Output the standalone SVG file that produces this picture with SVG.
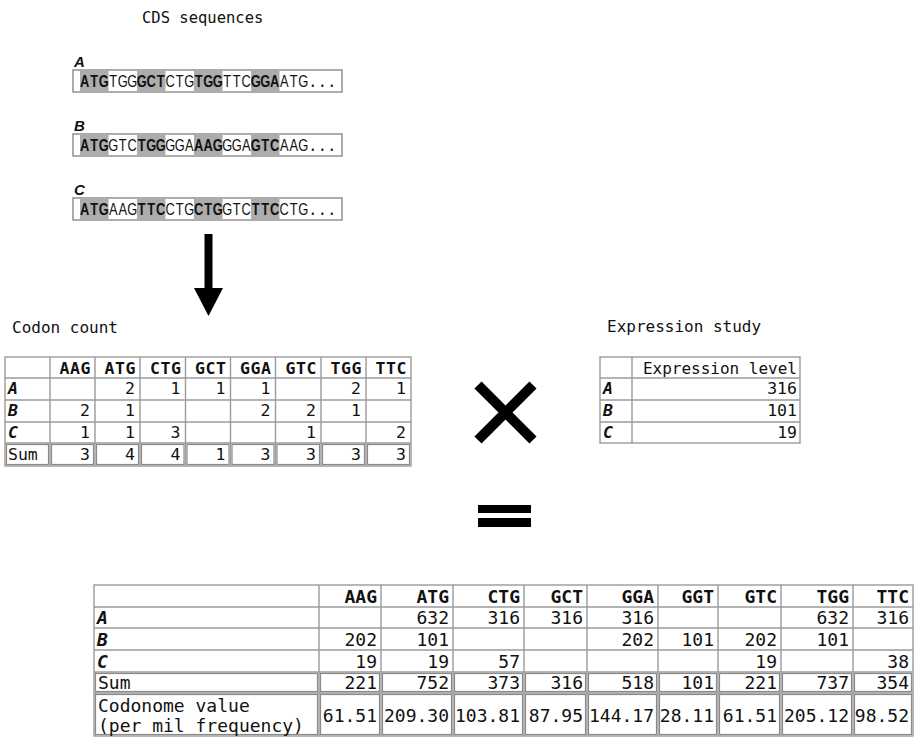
<svg xmlns="http://www.w3.org/2000/svg" width="914" height="737" viewBox="0 0 914 737">
<style>
.mono{font-family:"DejaVu Sans Mono","Liberation Mono",monospace;fill:#111}
.sans{font-family:"Liberation Sans",Arial,sans-serif;fill:#111}
.s16{font-size:16.5px}
.s18{font-size:18px}
.b{font-weight:bold}
.it{font-style:italic;font-weight:bold}
.e{text-anchor:end}
.grid{stroke:#9a9a9a;stroke-width:1.4;fill:none}
.dbl{stroke:#8a8a8a;stroke-width:1.2;fill:none}
.box{stroke:#8a8a8a;stroke-width:1.4;fill:#fff}
.sh{fill:#acacac}
.seq{font-family:"Liberation Sans",Arial,sans-serif;font-size:16.5px;fill:#111;text-anchor:middle}
.sb{font-weight:bold}
</style>
<rect width="914" height="737" fill="#fff"/>

<g id="title">
<text class="mono" x="142" y="23" font-size="15.5">CDS sequences</text>
</g>

<g id="seqA">
<text class="sans it" x="74" y="67" font-size="15">A</text>
<rect class="box" x="73" y="70" width="269" height="22"/>
<rect class="sh" x="80" y="70.7" width="28.5" height="20.6"/>
<rect class="sh" x="137" y="70.7" width="28.5" height="20.6"/>
<rect class="sh" x="194" y="70.7" width="28.5" height="20.6"/>
<rect class="sh" x="251" y="70.7" width="28.5" height="20.6"/>
<text class="seq" y="87.5" transform="scale(0.78 1)"><tspan class="sb" x="108.65 120.83 133.01">ATG</tspan><tspan x="145.19 157.37 169.55">TGG</tspan><tspan class="sb" x="181.73 193.91 206.09">GCT</tspan><tspan x="218.27 230.45 242.63">CTG</tspan><tspan class="sb" x="254.81 266.99 279.17">TGG</tspan><tspan x="291.35 303.53 315.71">TTC</tspan><tspan class="sb" x="327.89 340.07 352.25">GGA</tspan><tspan x="364.43 376.61 388.79">ATG</tspan><tspan class="sb" x="400.97 413.15 425.33">...</tspan></text>
</g>

<g id="seqB">
<text class="sans it" x="74" y="131" font-size="15">B</text>
<rect class="box" x="73" y="134" width="269" height="22"/>
<rect class="sh" x="80" y="134.7" width="28.5" height="20.6"/>
<rect class="sh" x="137" y="134.7" width="28.5" height="20.6"/>
<rect class="sh" x="194" y="134.7" width="28.5" height="20.6"/>
<rect class="sh" x="251" y="134.7" width="28.5" height="20.6"/>
<text class="seq" y="151.5" transform="scale(0.78 1)"><tspan class="sb" x="108.65 120.83 133.01">ATG</tspan><tspan x="145.19 157.37 169.55">GTC</tspan><tspan class="sb" x="181.73 193.91 206.09">TGG</tspan><tspan x="218.27 230.45 242.63">GGA</tspan><tspan class="sb" x="254.81 266.99 279.17">AAG</tspan><tspan x="291.35 303.53 315.71">GGA</tspan><tspan class="sb" x="327.89 340.07 352.25">GTC</tspan><tspan x="364.43 376.61 388.79">AAG</tspan><tspan class="sb" x="400.97 413.15 425.33">...</tspan></text>
</g>

<g id="seqC">
<text class="sans it" x="74" y="195" font-size="15">C</text>
<rect class="box" x="73" y="198" width="269" height="22"/>
<rect class="sh" x="80" y="198.7" width="28.5" height="20.6"/>
<rect class="sh" x="137" y="198.7" width="28.5" height="20.6"/>
<rect class="sh" x="194" y="198.7" width="28.5" height="20.6"/>
<rect class="sh" x="251" y="198.7" width="28.5" height="20.6"/>
<text class="seq" y="215.5" transform="scale(0.78 1)"><tspan class="sb" x="108.65 120.83 133.01">ATG</tspan><tspan x="145.19 157.37 169.55">AAG</tspan><tspan class="sb" x="181.73 193.91 206.09">TTC</tspan><tspan x="218.27 230.45 242.63">CTG</tspan><tspan class="sb" x="254.81 266.99 279.17">CTG</tspan><tspan x="291.35 303.53 315.71">GTC</tspan><tspan class="sb" x="327.89 340.07 352.25">TTC</tspan><tspan x="364.43 376.61 388.79">CTG</tspan><tspan class="sb" x="400.97 413.15 425.33">...</tspan></text>
</g>

<g id="connectors">
<rect x="204.5" y="234" width="8" height="56" fill="#000"/>
<polygon points="194,288 223,288 208.5,316" fill="#000"/>
</g>

<g id="codon-count">
<text class="mono" font-size="16" x="12" y="333">Codon count</text>
<rect class="grid" x="5" y="357" width="406" height="109"/>
<path class="grid" d="M5 378H411M5 400H411M5 422H411M5 443H411M50 357V466M95 357V466M140 357V466M185.5 357V466M230.5 357V466M275.5 357V466M321 357V466M366 357V466"/>
<g class="dbl">
<rect x="6.5" y="444.5" width="42" height="20"/>
<rect x="51.5" y="444.5" width="42" height="20"/>
<rect x="96.5" y="444.5" width="42" height="20"/>
<rect x="141.5" y="444.5" width="42.5" height="20"/>
<rect x="187" y="444.5" width="42" height="20"/>
<rect x="232" y="444.5" width="42" height="20"/>
<rect x="277" y="444.5" width="42.5" height="20"/>
<rect x="322.5" y="444.5" width="42" height="20"/>
<rect x="367.5" y="444.5" width="42" height="20"/>
</g>
<g class="mono s16 b e" letter-spacing="0.6">
<text x="91" y="374">AAG</text><text x="136" y="374">ATG</text><text x="181.5" y="374">CTG</text><text x="226.5" y="374">GCT</text>
<text x="271.5" y="374">GGA</text><text x="317" y="374">GTC</text><text x="362" y="374">TGG</text><text x="407" y="374">TTC</text>
</g>
<g class="mono s16 it">
<text x="8" y="394">A</text><text x="8" y="416">B</text><text x="8" y="438">C</text>
</g>
<text class="mono s16" x="8" y="460">Sum</text>
<g class="mono s16 e">
<text x="135" y="394">2</text><text x="180.5" y="394">1</text><text x="225.5" y="394">1</text><text x="270.5" y="394">1</text><text x="361" y="394">2</text><text x="406" y="394">1</text>
<text x="90" y="416">2</text><text x="135" y="416">1</text><text x="270.5" y="416">2</text><text x="316" y="416">2</text><text x="361" y="416">1</text>
<text x="90" y="438">1</text><text x="135" y="438">1</text><text x="180.5" y="438">3</text><text x="316" y="438">1</text><text x="406" y="438">2</text>
<text x="90" y="460">3</text><text x="135" y="460">4</text><text x="180.5" y="460">4</text><text x="225.5" y="460">1</text><text x="270.5" y="460">3</text><text x="316" y="460">3</text><text x="361" y="460">3</text><text x="406" y="460">3</text>
</g>
</g>

<g id="cross">
<path d="M478 385L533 440M533 385L478 440" stroke="#000" stroke-width="10" fill="none"/>
</g>

<g id="expression">
<text class="mono" font-size="16" x="607" y="332">Expression study</text>
<rect class="grid" x="600" y="357" width="200" height="86"/>
<path class="grid" d="M600 378H800M600 400H800M600 422H800M632 357V443"/>
<g class="mono s16 it">
<text x="603" y="394">A</text><text x="603" y="416">B</text><text x="603" y="438">C</text>
</g>
<g class="mono e" font-size="16">
<text x="797" y="374">Expression level</text>
</g>
<g class="mono s16 e">
<text x="797" y="394">316</text><text x="797" y="416">101</text><text x="797" y="438">19</text>
</g>
</g>

<g id="equals">
<rect x="478" y="505" width="53" height="8" fill="#000"/>
<rect x="478" y="518" width="53" height="9" fill="#000"/>
</g>

<g id="result">
<rect class="grid" x="94" y="585" width="819" height="151"/>
<path class="grid" d="M94 607H913M94 628H913M94 650H913M94 672H913M94 693H913M319 585V736M381 585V736M453 585V736M524 585V736M587 585V736M658 585V736M718 585V736M781 585V736M853 585V736"/>
<g class="dbl">
<rect x="95.5" y="673.5" width="222" height="18"/>
<rect x="320.5" y="673.5" width="59" height="18"/>
<rect x="382.5" y="673.5" width="69" height="18"/>
<rect x="454.5" y="673.5" width="68" height="18"/>
<rect x="525.5" y="673.5" width="60" height="18"/>
<rect x="588.5" y="673.5" width="68" height="18"/>
<rect x="659.5" y="673.5" width="57" height="18"/>
<rect x="719.5" y="673.5" width="60" height="18"/>
<rect x="782.5" y="673.5" width="69" height="18"/>
<rect x="854.5" y="673.5" width="57" height="18"/>
<rect x="95.5" y="694.5" width="222" height="40"/>
<rect x="320.5" y="694.5" width="59" height="40"/>
<rect x="382.5" y="694.5" width="69" height="40"/>
<rect x="454.5" y="694.5" width="68" height="40"/>
<rect x="525.5" y="694.5" width="60" height="40"/>
<rect x="588.5" y="694.5" width="68" height="40"/>
<rect x="659.5" y="694.5" width="57" height="40"/>
<rect x="719.5" y="694.5" width="60" height="40"/>
<rect x="782.5" y="694.5" width="69" height="40"/>
<rect x="854.5" y="694.5" width="57" height="40"/>
</g>
<g class="mono s18 b e">
<text x="377" y="603">AAG</text><text x="449" y="603">ATG</text><text x="520" y="603">CTG</text><text x="583" y="603">GCT</text><text x="654" y="603">GGA</text>
<text x="714" y="603">GGT</text><text x="777" y="603">GTC</text><text x="849" y="603">TGG</text><text x="909" y="603">TTC</text>
</g>
<g class="mono s18 it">
<text x="97" y="624">A</text><text x="97" y="646">B</text><text x="97" y="668">C</text>
</g>
<g class="mono s18">
<text x="98" y="689">Sum</text>
<text x="98" y="712">Codonome value</text>
<text x="98" y="732">(per mil frequency)</text>
</g>
<g class="mono s18 e">
<text x="449" y="624">632</text><text x="520" y="624">316</text><text x="583" y="624">316</text><text x="654" y="624">316</text><text x="849" y="624">632</text><text x="909" y="624">316</text>
<text x="377" y="646">202</text><text x="449" y="646">101</text><text x="654" y="646">202</text><text x="714" y="646">101</text><text x="777" y="646">202</text><text x="849" y="646">101</text>
<text x="377" y="668">19</text><text x="449" y="668">19</text><text x="520" y="668">57</text><text x="777" y="668">19</text><text x="909" y="668">38</text>
<text x="377" y="689">221</text><text x="449" y="689">752</text><text x="520" y="689">373</text><text x="583" y="689">316</text><text x="654" y="689">518</text><text x="714" y="689">101</text><text x="777" y="689">221</text><text x="849" y="689">737</text><text x="909" y="689">354</text>
<text x="377" y="722">61.51</text><text x="449" y="722">209.30</text><text x="520" y="722">103.81</text><text x="583" y="722">87.95</text><text x="654" y="722">144.17</text><text x="714" y="722">28.11</text><text x="777" y="722">61.51</text><text x="849" y="722">205.12</text><text x="909" y="722">98.52</text>
</g>
</g>
</svg>
